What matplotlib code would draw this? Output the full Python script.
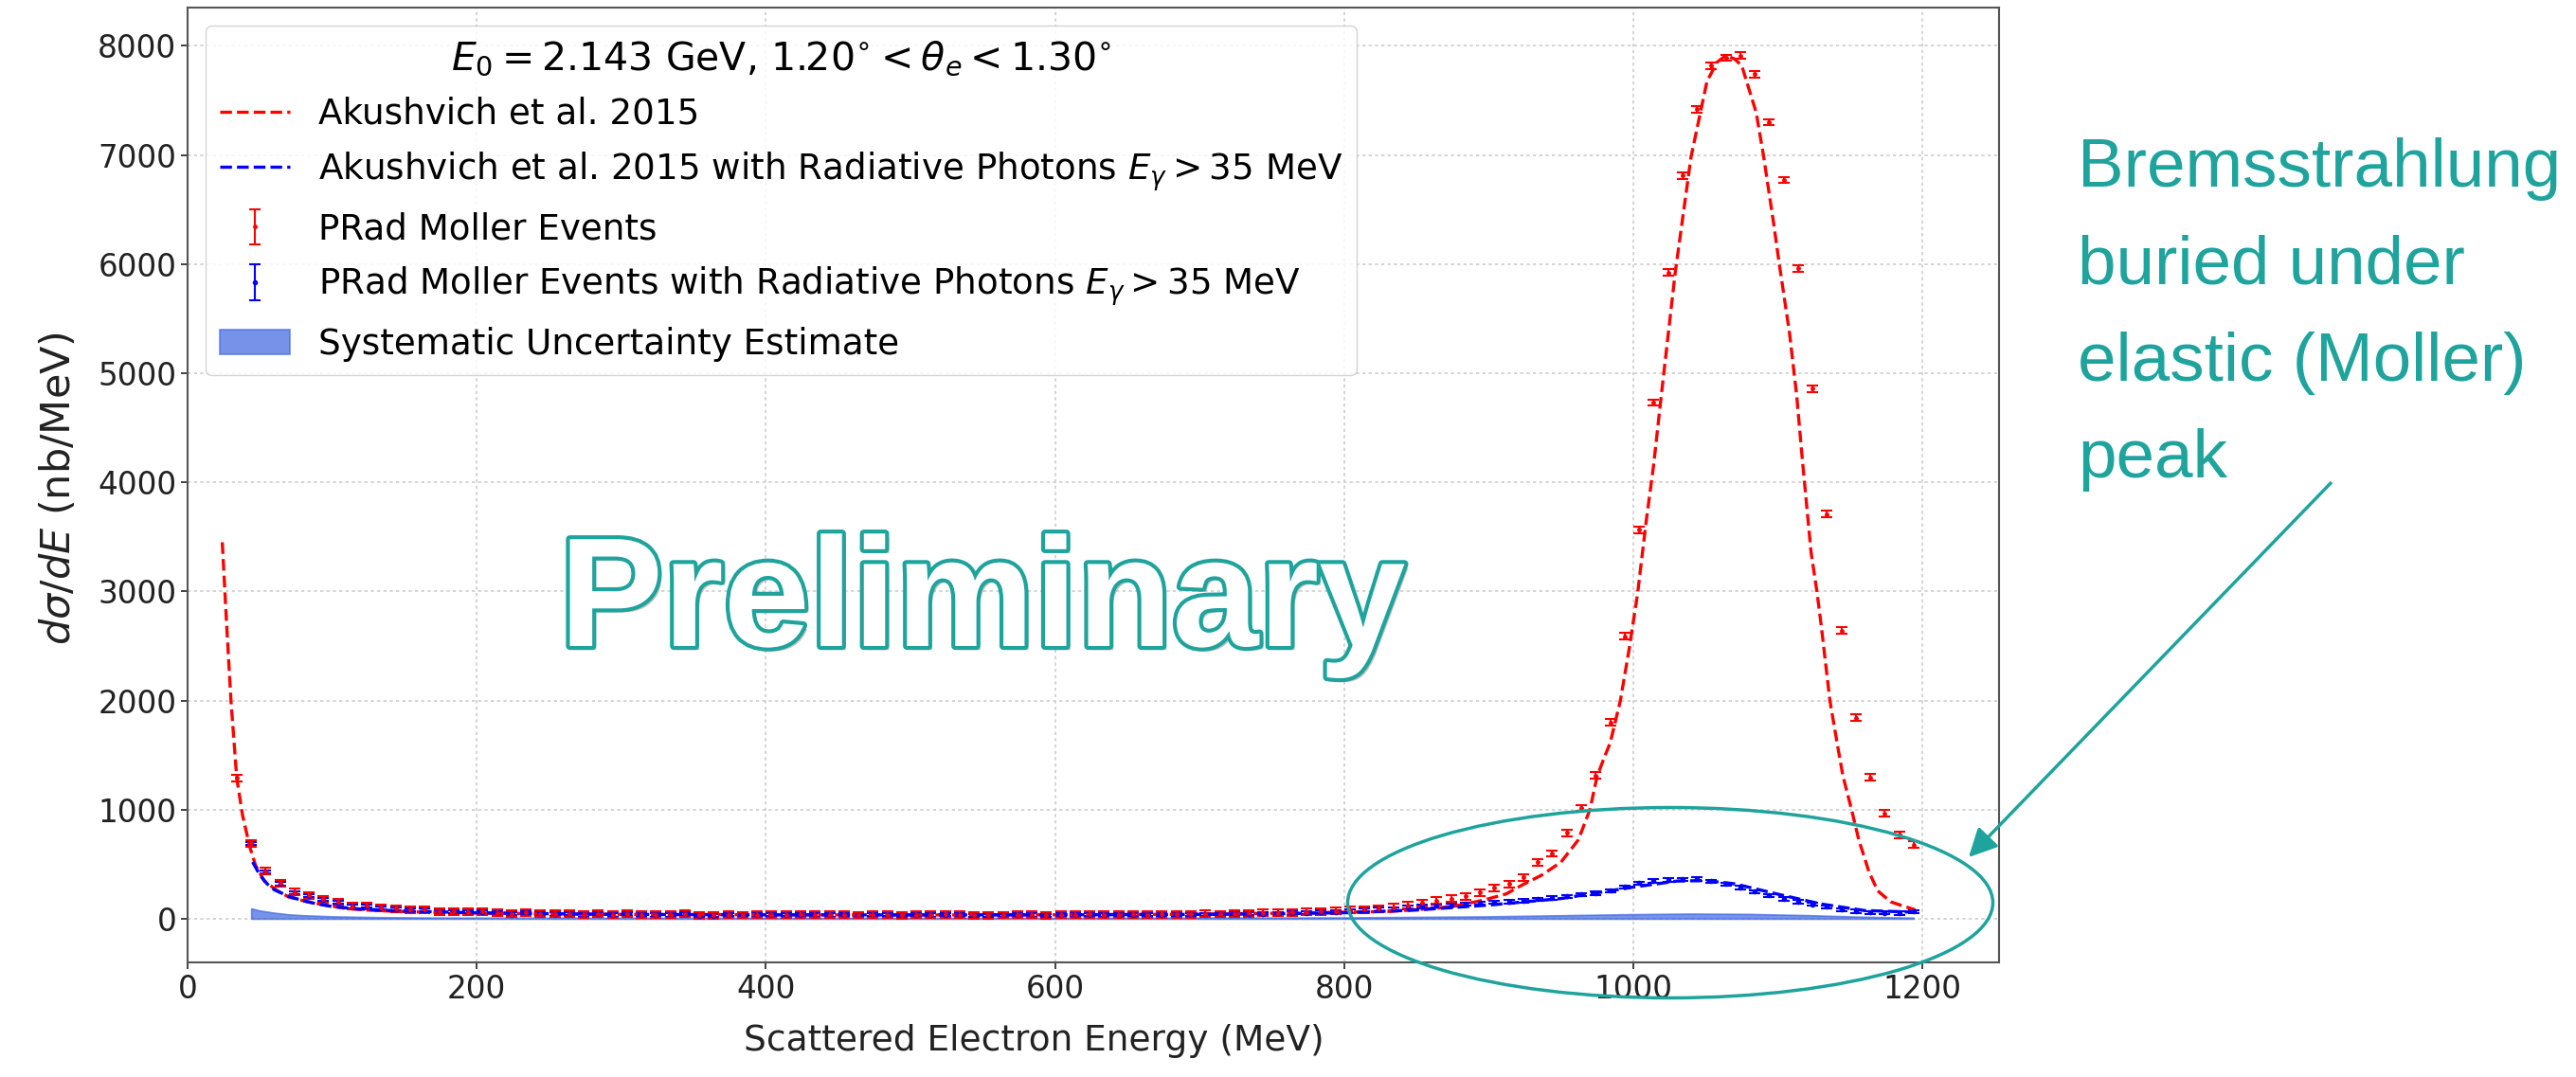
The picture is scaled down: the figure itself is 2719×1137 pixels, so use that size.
import numpy as np
import matplotlib
matplotlib.use("Agg")
import matplotlib.pyplot as plt
from matplotlib.patches import Ellipse, FancyArrowPatch
import matplotlib.patheffects as pe

# ---------------- data ----------------
# PRad Moller events (10 MeV bins)
E_red = np.arange(34, 1195, 10)
red_vals = [1290, 690, 435, 325, 245, 212, 178,
            155, 115, 117, 103, 92, 83, 82, 67, 66, 64,
            65, 54, 46, 58, 45, 44, 45, 36, 44, 36,
            44, 36, 36, 35, 44, 30, 30, 38, 34, 36,
            38, 37, 39, 36, 35, 38, 34, 38, 37, 33,
            38, 35, 39, 37, 32, 31, 34, 36, 35, 33,
            38, 37, 39, 36, 38, 39, 37, 40, 42, 41,
            44, 43, 46, 48, 52, 55, 58, 62, 68, 72,
            78, 82, 92, 105, 125, 145, 168, 184, 205, 240,
            285, 318, 379, 519, 598, 787, 1015, 1314, 1800, 2590,
            3565, 4730, 5920, 6810, 7420, 7820, 7890, 7910, 7740, 7300,
            6770, 5960, 4860, 3710, 2640, 1840, 1295, 965, 770, 680]
red_err = 30

# PRad Moller events with radiative photons
E_blue = np.arange(44, 1195, 10)
blue_vals = [690, 430, 320, 240, 210, 175,
             150, 113, 115, 100, 90, 82, 80, 66, 65, 63,
             64, 53, 45, 57, 44, 43, 44, 35, 43, 35,
             43, 35, 35, 34, 43, 29, 29, 37, 33, 35,
             37, 36, 38, 35, 34, 37, 33, 37, 36, 32,
             37, 34, 38, 36, 31, 30, 33, 35, 34, 32,
             37, 36, 38, 35, 37, 38, 36, 38, 40, 39,
             40, 41, 42, 44, 46, 49, 52, 55, 60, 64,
             68, 80, 86, 93, 103, 112, 117, 123, 135, 143,
             148, 155, 165, 178, 190, 205, 222, 233, 258, 292,
             328, 347, 355, 360, 363, 345, 318, 285, 250, 215,
             182, 155, 132, 108, 82, 68, 58, 53, 52, 65]
blue_err = 14

# Akushevich et al. 2015 theory
E_th = [24, 27, 30, 34, 38, 43, 47, 53, 62, 70, 83, 95, 108, 120, 140, 160, 200, 250, 300, 400,
        500, 600, 700, 750, 800, 832, 848, 864, 880, 896, 912, 924, 937, 950, 962, 970, 975, 980, 984, 991,
        997, 1003, 1009, 1014, 1019, 1029, 1040, 1051, 1058, 1064, 1070, 1075, 1085, 1090, 1097, 1101, 1108, 1113, 1117, 1123,
        1127, 1130, 1136, 1141, 1145, 1151, 1156, 1163, 1169, 1178, 1188, 1195]
th_vals = [3450, 2700, 2000, 1290, 950, 660, 490, 346, 258, 199, 155, 126, 97, 82, 70, 62, 52, 45, 40, 36,
           35, 36, 42, 50, 60, 67, 82, 96, 125, 169, 227, 315, 402, 519, 723, 1000, 1306, 1480, 1610, 1994,
           2460, 2980, 3650, 4150, 4750, 5920, 6985, 7675, 7850, 7910, 7880, 7820, 7390, 7000, 6380, 6000, 5375, 4800, 4200, 3357,
           3000, 2690, 2000, 1610, 1310, 1000, 723, 431, 257, 155, 111, 82]

# Akushevich with radiative photons
E_th_rad = [45, 50, 55, 60, 70, 80, 90, 100, 120, 150, 200, 250, 300, 400, 500,
            600, 700, 750, 800, 850, 900, 950, 1000, 1030, 1050, 1070, 1100, 1130, 1160, 1195]
th_rad_vals = [520, 400, 320, 265, 205, 165, 135, 112, 88, 70, 55, 46, 40, 36, 35,
               36, 40, 45, 55, 80, 125, 185, 290, 345, 350, 320, 225, 135, 75, 60]

# Systematic uncertainty band
E_sys = [44, 50, 60, 70, 80, 100, 130, 170, 250, 400, 600, 800, 900, 950, 1000, 1040, 1080, 1120, 1160, 1194]
sys_vals = [95, 75, 55, 40, 32, 22, 15, 11, 9, 8, 8, 12, 22, 32, 42, 47, 44, 33, 18, 10]

x_ticks = [0, 200, 400, 600, 800, 1000, 1200]
y_ticks = [0, 1000, 2000, 3000, 4000, 5000, 6000, 7000, 8000]

# ---------------- figure ----------------
W, H = 2719, 1137
fig = plt.figure(figsize=(W / 100, H / 100), dpi=100)
ax = fig.add_axes([198 / W, 1 - 1016 / H, (2110 - 198) / W, (1016 - 8) / H])

FS = 23.5
teal = '#1fa39d'

ax.grid(True, linestyle=(0, (2, 2)), color='#cdcdcd', lw=1.2)
ax.set_axisbelow(True)

fill = ax.fill_between(E_sys, 0, sys_vals, color='royalblue', alpha=0.72, lw=1.2,
                       label='Systematic Uncertainty Estimate')
eb_b = ax.errorbar(E_blue, blue_vals, yerr=blue_err, fmt='.', color='blue', ms=6,
                   capsize=4, elinewidth=1.5, capthick=1.5,
                   label=r'PRad Moller Events with Radiative Photons $E_{\gamma} > 35$ MeV')
eb_r = ax.errorbar(E_red, red_vals, yerr=red_err, fmt='.', color='red', ms=5,
                   capsize=4, elinewidth=1.5, capthick=1.5, label='PRad Moller Events')
l_r, = ax.plot(E_th, th_vals, '--', color='red', lw=2.4, label='Akushvich et al. 2015')
l_b, = ax.plot(E_th_rad, th_rad_vals, '--', color='blue', lw=2.4,
               label=r'Akushvich et al. 2015 with Radiative Photons $E_{\gamma} > 35$ MeV')

ax.set_xlim(0, 1253)
ax.set_ylim(-400, 8350)
ax.set_xticks(x_ticks)
ax.set_yticks(y_ticks)
ax.tick_params(labelsize=FS, colors='#222222', length=5, width=1.2)
for s in ax.spines.values():
    s.set_color('#555555')
    s.set_linewidth(1.5)
ax.set_xlabel('Scattered Electron Energy (MeV)', fontsize=27, color='#222222')
ax.xaxis.set_label_coords(0.467, -0.064)
ax.set_ylabel(r'$d\sigma/dE$ (nb/MeV)', fontsize=31, color='#222222')
ax.yaxis.set_label_coords(-0.060, 0.497)

leg = ax.legend(handles=[l_r, l_b, eb_r, eb_b, fill], loc='upper left', fontsize=26.8,
                title=r'$E_0 = 2.143$ GeV, $1.20^{\circ} < \theta_e < 1.30^{\circ}$',
                title_fontsize=29.5, framealpha=0.85, borderaxespad=0.5, labelspacing=0.52)

# ---------------- annotations ----------------
fig.text(1037 / W, 1 - 682 / H, 'Preliminary', fontsize=118, weight='bold',
         family='Liberation Sans', color='white', ha='center', va='baseline',
         path_effects=[pe.SimplePatchShadow(offset=(3, -3), shadow_rgbFace='#888888', alpha=0.5),
                       pe.Stroke(linewidth=6, foreground=teal), pe.Normal()])

fig.text(2193 / W, 1 - 145 / H, 'Bremsstrahlung\nburied under\nelastic (Moller)\npeak',
         fontsize=52.5, family='Liberation Sans', color=teal, ha='left', va='top', linespacing=1.68)

fig.add_artist(Ellipse((1763 / W, 1 - 953 / H), 681 / W, 201 / H, transform=fig.transFigure,
                       fill=False, ec=teal, lw=2.5))
fig.add_artist(FancyArrowPatch((2462 / W, 1 - 508 / H), (2076 / W, 1 - 907 / H),
                               transform=fig.transFigure,
                               arrowstyle='-|>,head_length=0.4,head_width=0.2',
                               mutation_scale=45, color=teal, lw=2.5))

fig.savefig('out.png', dpi=100)
